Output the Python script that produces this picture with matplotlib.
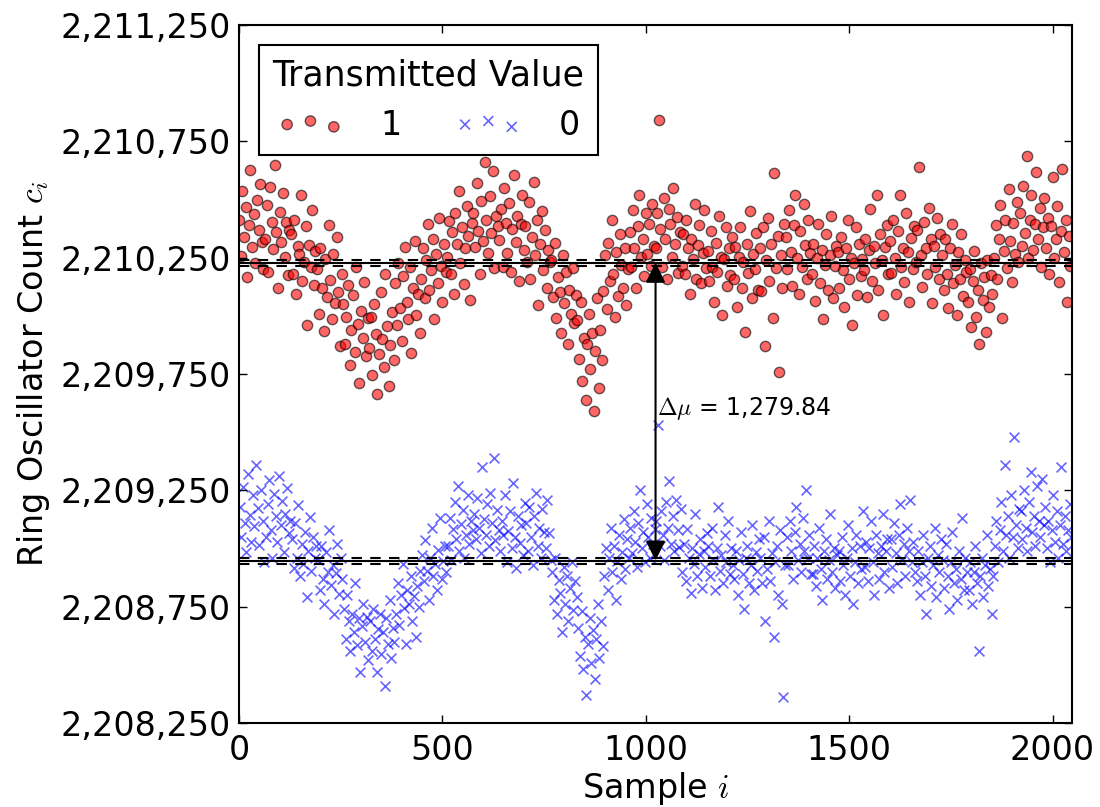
import numpy as np
import matplotlib
matplotlib.use('Agg')
import matplotlib.pyplot as plt
from matplotlib import ticker

plt.rcParams['mathtext.fontset'] = 'cm'
plt.rcParams['font.family'] = 'DejaVu Sans'

# Counts are stored as offsets above this base
count_base = 2208000

# transmitted value 1, one reading every 4 samples (starting at sample 0)
ones_offset = [
    2412, 2257, 2537, 2337, 2467, 2167, 2392, 2627, 2297, 2437, 2227, 2497, 2367, 2567, 2317, 2202,
    2331, 2478, 2190, 2555, 2402, 2289, 2649, 2361, 2120, 2445, 2318, 2530, 2254, 2405, 2176, 2371,
    2350, 2180, 2412, 2095, 2301, 2266, 2521, 2148, 2230, 2388, 1960, 2305, 2209, 2455, 2133, 2278,
    2203, 2010, 2290, 2118, 1935, 2245, 2082, 2391, 2156, 1988, 2267, 2054, 2340, 2101, 1872, 2179,
    2050, 1880, 1995, 2132, 1790, 1941, 2088, 1845, 2210, 1963, 1712, 2021, 1904, 2145, 1826, 1990,
    1860, 1995, 1745, 2050, 1920, 1665, 1838, 2102, 1902, 1780, 2180, 1955, 1698, 1876, 2015, 1812,
    2140, 1960, 2225, 2035, 1890, 2170, 2295, 2060, 1985, 2210, 1840, 2118, 2320, 2005, 2093, 1928,
    2160, 2290, 2075, 2240, 2395, 2110, 2198, 2330, 1985, 2265, 2142, 2420, 2215, 2058, 2310, 2187,
    2255, 2408, 2180, 2362, 2095, 2440, 2310, 2535, 2226, 2381, 2138, 2290, 2472, 2345, 2070, 2398,
    2440, 2295, 2570, 2365, 2180, 2492, 2321, 2660, 2410, 2268, 2515, 2356, 2622, 2206, 2430, 2388,
    2325, 2460, 2210, 2550, 2398, 2272, 2485, 2190, 2372, 2605, 2318, 2430, 2150, 2395, 2520, 2281,
    2385, 2230, 2490, 2160, 2338, 2575, 2262, 2410, 2045, 2310, 2452, 2198, 2368, 2120, 2285, 2230,
    2240, 2080, 2315, 1990, 2165, 2102, 1925, 2260, 2055, 2190, 1880, 2112, 2010, 2205, 1968, 2090,
    1980, 1815, 2060, 1720, 1905, 1640, 1880, 2010, 1770, 1925, 1590, 1850, 2075, 1690, 1940, 1810,
    2105, 2260, 2030, 2315, 2150, 2410, 2180, 1995, 2275, 2085, 2350, 2220, 2120, 2290, 2045, 2200,
    2360, 2210, 2455, 2290, 2120, 2385, 2520, 2255, 2330, 2170, 2440, 2265, 2395, 2215, 2480, 2300,
    2290, 2440, 2840, 2375, 2210, 2505, 2330, 2160, 2460, 2395, 2255, 2550, 2310, 2425, 2185, 2362,
    2215, 2350, 2180, 2410, 2290, 2095, 2330, 2245, 2480, 2160, 2305, 2390, 2140, 2270, 2455, 2205,
    2280, 2150, 2365, 2210, 2060, 2315, 2190, 2430, 2255, 2005, 2245, 2380, 2130, 2290, 2175, 2340,
    2160, 2295, 2040, 2255, 2380, 2120, 2230, 1930, 2310, 2185, 2450, 2075, 2265, 2200, 2355, 2110,
    2290, 2105, 2380, 1870, 2240, 2420, 2150, 2310, 1990, 2615, 2205, 2345, 1760, 2260, 2120, 2395,
    2340, 2200, 2455, 2275, 2130, 2390, 2520, 2250, 2095, 2365, 2210, 2480, 2305, 2160, 2410, 2270,
    2180, 2310, 2065, 2250, 2395, 2140, 2285, 1985, 2220, 2350, 2110, 2260, 2430, 2075, 2215, 2300,
    2275, 2120, 2340, 2195, 2040, 2290, 2410, 2160, 2250, 1960, 2225, 2380, 2090, 2310, 2170, 2245,
    2195, 2330, 2080, 2285, 2460, 2150, 2300, 2225, 2520, 2110, 2350, 2240, 2005, 2295, 2390, 2180,
    2320, 2185, 2410, 2250, 2095, 2365, 2520, 2210, 2290, 2145, 2440, 2275, 2060, 2335, 2200, 2385,
    2230, 2370, 2640, 2260, 2125, 2405, 2290, 2180, 2465, 2330, 2055, 2300, 2210, 2420, 2160, 2350,
    2260, 2110, 2330, 2180, 2035, 2290, 2395, 2140, 2220, 2005, 2275, 2160, 2350, 2085, 2240, 2190,
    2060, 2200, 1950, 2150, 2280, 1995, 2110, 1880, 2225, 2070, 2165, 1930, 2240, 2040, 2175, 2095,
    2250, 2390, 2160, 2330, 2475, 1990, 2280, 2410, 2205, 2545, 2320, 2145, 2400, 2265, 2490, 2230,
    2440, 2300, 2560, 2355, 2685, 2250, 2410, 2520, 2285, 2395, 2620, 2330, 2465, 2210, 2380, 2505,
    2290, 2420, 2180, 2385, 2595, 2250, 2330, 2470, 2145, 2365, 2630, 2275, 2410, 2060, 2345, 2215,
]

# transmitted value 0, one reading every 4 samples (starting at sample 2)
zeros_offset = [
    1180, 1050, 1265, 1110, 985, 1320, 1145, 1030, 1230, 1095, 1360, 1175, 1015, 1250, 1120, 940,
    1050, 1190, 1295, 1080, 960, 1235, 1140, 1030, 1310, 1100, 1205, 985, 1150, 1260, 1065, 1120,
    1040, 915, 1110, 960, 1185, 880, 1020, 935, 1070, 790, 990, 1135, 905, 1050, 960, 1010,
    950, 820, 1010, 870, 760, 985, 900, 1080, 845, 930, 720, 895, 1020, 805, 960, 870,
    740, 610, 800, 690, 560, 720, 640, 850, 585, 700, 470, 665, 760, 600, 705, 520,
    690, 560, 740, 610, 470, 655, 720, 545, 640, 410, 700, 590, 780, 530, 660, 600,
    720, 850, 670, 800, 935, 745, 590, 820, 760, 880, 690, 795, 620, 840, 750, 905,
    970, 860, 1035, 905, 780, 960, 1090, 880, 935, 820, 995, 1130, 870, 945, 1010, 900,
    1010, 1130, 950, 1085, 1200, 1040, 1270, 990, 1105, 1165, 960, 1060, 1230, 1020, 1120, 1080,
    1150, 1040, 1215, 1090, 980, 1350, 1125, 1060, 1190, 1010, 1240, 1110, 1390, 1035, 1165, 1080,
    990, 1120, 1060, 1230, 940, 1075, 1160, 1000, 1280, 1050, 915, 1140, 1025, 1100, 970, 1195,
    1110, 990, 1180, 1050, 930, 1140, 1240, 1010, 1090, 960, 1170, 1070, 1000, 1210, 1065, 950,
    900, 780, 960, 720, 865, 810, 640, 920, 760, 880, 690, 830, 940, 735, 860, 790,
    660, 540, 730, 480, 620, 370, 590, 700, 510, 650, 440, 610, 760, 530, 690, 580,
    880, 1000, 820, 960, 1090, 900, 1010, 780, 945, 1060, 870, 985, 1125, 910, 1040, 960,
    1090, 980, 1160, 1030, 920, 1110, 1250, 1000, 1070, 940, 1190, 1050, 960, 1130, 1020, 1085,
    1120, 1530, 1010, 1160, 1060, 950, 1200, 1090, 1290, 1020, 1140, 990, 1210, 1080, 1005, 1170,
    900, 1020, 860, 1085, 960, 810, 1000, 935, 1150, 880, 975, 1040, 830, 990, 920, 1065,
    1010, 880, 1090, 950, 820, 1000, 1180, 905, 970, 850, 1060, 940, 1120, 890, 1000, 930,
    870, 990, 800, 950, 1070, 890, 740, 960, 1010, 850, 930, 1100, 820, 985, 905, 1040,
    960, 850, 1050, 690, 910, 1120, 860, 980, 620, 940, 1010, 800, 1080, 760, 360, 930,
    1050, 930, 1120, 990, 870, 1070, 1180, 950, 1020, 900, 1130, 990, 1250, 960, 1060, 890,
    890, 1010, 840, 960, 1090, 910, 780, 990, 1040, 870, 950, 1150, 900, 1000, 830, 970,
    990, 860, 1050, 930, 800, 960, 1100, 880, 1000, 760, 940, 1060, 850, 1010, 910, 1160,
    920, 1030, 860, 1000, 1120, 940, 800, 1060, 980, 870, 1010, 1150, 900, 990, 1040, 830,
    1040, 920, 1110, 980, 850, 1060, 1190, 950, 1020, 880, 1090, 990, 1210, 940, 1030, 900,
    860, 990, 800, 940, 1060, 880, 720, 960, 1010, 840, 930, 1090, 790, 970, 900, 1040,
    950, 830, 1020, 880, 740, 940, 1070, 850, 910, 780, 990, 870, 1130, 820, 960, 900,
    820, 940, 760, 900, 1010, 850, 560, 880, 960, 790, 930, 1060, 840, 910, 720, 880,
    1010, 1120, 940, 1080, 1200, 990, 1360, 1060, 1140, 960, 1230, 1050, 1480, 1100, 1000, 1170,
    1160, 1040, 1250, 1090, 990, 1200, 1330, 1070, 1140, 1010, 1270, 1120, 1050, 1300, 1100, 1180,
    1000, 1120, 940, 1080, 1230, 1030, 1160, 960, 1100, 1350, 1020, 1140, 990, 1080, 1190, 1050,
]

# means (solid lines) and their confidence band (dashed lines)
mean_one = 2210228
mean_zero = 2208948
band_half = 13
delta_label = r'$\Delta\mu$ = 1,279.84'

ones_count = count_base + np.array(ones_offset)
zeros_count = count_base + np.array(zeros_offset)
ones_sample = np.arange(0, 2048, 4)[:len(ones_count)]
zeros_sample = np.arange(2, 2048, 4)[:len(zeros_count)]

fig = plt.figure(figsize=(11, 8.07), dpi=100)
ax = fig.add_axes([0.2173, 0.1041, 0.7573, 0.8649])

ax.scatter(ones_sample, ones_count, s=55, c='red', edgecolors='k',
           linewidths=1, alpha=0.6, label='1')
ax.scatter(zeros_sample, zeros_count, s=50, c='blue', marker='x',
           linewidths=1.2, alpha=0.6, label='0')

for m in (mean_one, mean_zero):
    ax.axhline(m, color='k', lw=1.5)
    ax.axhline(m - band_half, color='k', lw=1.5, ls='--', dashes=(5, 4))
    ax.axhline(m + band_half, color='k', lw=1.5, ls='--', dashes=(5, 4))

ax.annotate('', xy=(1024, mean_one), xytext=(1024, mean_zero),
            arrowprops=dict(arrowstyle='<|-|>', color='k', lw=1.5,
                            mutation_scale=30, shrinkA=0, shrinkB=0))
ax.text(1028, 2209600, delta_label, fontsize=17, ha='left', va='center')

ax.set_xlim(0, 2048)
ax.set_ylim(2208250, 2211250)
ax.set_xticks([0, 500, 1000, 1500, 2000])
ax.set_yticks(np.arange(2208250, 2211251, 500))
ax.yaxis.set_major_formatter(ticker.FuncFormatter(lambda v, p: '{:,.0f}'.format(v)))
ax.tick_params(direction='in', top=True, right=True, length=6, width=1,
               labelsize=24)
ax.tick_params(axis='x', pad=8)
ax.tick_params(axis='y', pad=6)
for sp in ax.spines.values():
    sp.set_linewidth(1.5)

ax.set_xlabel('Sample $i$', fontsize=24, labelpad=2)
ax.set_ylabel('Ring Oscillator Count $c_i$', fontsize=24, labelpad=6)

leg = ax.legend(title='Transmitted Value', loc='upper left', ncol=2,
                scatterpoints=3, scatteryoffsets=[0.45, 0.6, 0.35],
                fontsize=24, title_fontsize=25,
                fancybox=False, edgecolor='k', framealpha=1,
                borderaxespad=0.6, columnspacing=1.6, handletextpad=1.1,
                borderpad=0.4)
leg.get_frame().set_linewidth(1.5)

fig.savefig('out.png', dpi=100)
